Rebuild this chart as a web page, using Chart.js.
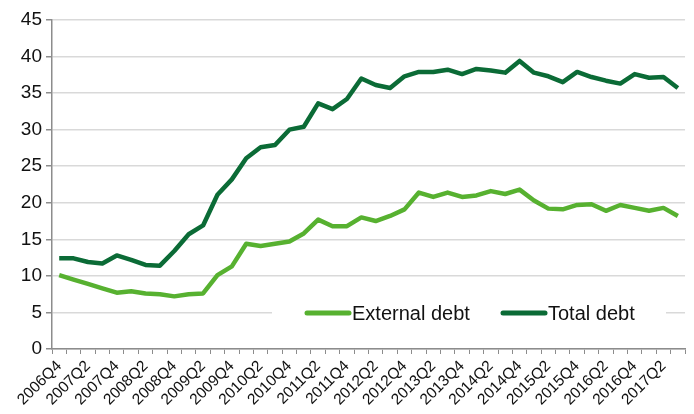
<!DOCTYPE html>
<html>
<head>
<meta charset="utf-8">
<script src="https://cdn.jsdelivr.net/npm/chart.js@4.4.1/dist/chart.umd.min.js"></script>
<style>
  html, body { margin: 0; padding: 0; background: #fff; }
  #wrap { width: 694px; height: 414px; position: relative; }
</style>
</head>
<body>
<div id="wrap"><canvas id="myChart"></canvas></div>
<script>
// quarters, 2006Q4 .. 2017Q3
const quarters = [
  '2006Q4',
  '2007Q1','2007Q2','2007Q3','2007Q4',
  '2008Q1','2008Q2','2008Q3','2008Q4',
  '2009Q1','2009Q2','2009Q3','2009Q4',
  '2010Q1','2010Q2','2010Q3','2010Q4',
  '2011Q1','2011Q2','2011Q3','2011Q4',
  '2012Q1','2012Q2','2012Q3','2012Q4',
  '2013Q1','2013Q2','2013Q3','2013Q4',
  '2014Q1','2014Q2','2014Q3','2014Q4',
  '2015Q1','2015Q2','2015Q3','2015Q4',
  '2016Q1','2016Q2','2016Q3','2016Q4',
  '2017Q1','2017Q2','2017Q3'
];

const externalDebt = [
  10.1,
  9.5, 8.9, 8.3, 7.7,
  7.9, 7.6, 7.5, 7.2,
  7.5, 7.6, 10.1, 11.3,
  14.4, 14.1, 14.4, 14.7,
  15.8, 17.7, 16.8, 16.8,
  18.0, 17.5, 18.2, 19.1,
  21.4, 20.8, 21.4, 20.8,
  21.0, 21.6, 21.2, 21.8,
  20.3, 19.2, 19.1, 19.7,
  19.8, 18.9, 19.7, 19.3,
  18.9, 19.3, 18.2
];

const totalDebt = [
  12.4,
  12.4, 11.9, 11.7, 12.8,
  12.2, 11.5, 11.4, 13.4,
  15.7, 16.9, 21.1, 23.2,
  26.1, 27.6, 27.9, 30.0,
  30.4, 33.6, 32.8, 34.2,
  37.0, 36.1, 35.7, 37.3,
  37.9, 37.9, 38.2, 37.6,
  38.3, 38.1, 37.8, 39.4,
  37.8, 37.3, 36.5, 37.9,
  37.2, 36.7, 36.3, 37.6,
  37.1, 37.2, 35.7
];

const yTicks = [0, 5, 10, 15, 20, 25, 30, 35, 40, 45];

const lightGreen = '#57b130';
const darkGreen = '#0b6b36';
const axisGrey = '#8c8c8c';
const FONT = '"Liberation Sans", Arial, sans-serif';

// legend sits inside the plot, on a white box over the 5 gridline
const innerLegend = {
  id: 'innerLegend',
  afterDatasetsDraw(chart) {
    const ctx = chart.ctx;
    const y = 313;
    ctx.save();
    ctx.fillStyle = '#fff';
    ctx.fillRect(272, 300, 394, 26);
    const items = [
      { x: 307, label: 'External debt', color: lightGreen },
      { x: 503, label: 'Total debt', color: darkGreen }
    ];
    items.forEach((it) => {
      ctx.strokeStyle = it.color;
      ctx.lineWidth = 5;
      ctx.lineCap = 'round';
      ctx.beginPath();
      ctx.moveTo(it.x, y);
      ctx.lineTo(it.x + 42, y);
      ctx.stroke();
      ctx.fillStyle = '#111';
      ctx.font = '20px ' + FONT;
      ctx.textBaseline = 'middle';
      ctx.fillText(it.label, it.x + 45, y + 1);
    });
    ctx.restore();
  }
};

const ctx = document.getElementById('myChart');
const myChart = new Chart(ctx, {
  type: 'line',
  data: {
    labels: quarters,
    datasets: [
      {
        label: 'External debt',
        data: externalDebt,
        borderColor: lightGreen,
        borderWidth: 4.5,
        pointRadius: 0,
        tension: 0,
        borderJoinStyle: 'round'
      },
      {
        label: 'Total debt',
        data: totalDebt,
        borderColor: darkGreen,
        borderWidth: 4.5,
        pointRadius: 0,
        tension: 0,
        borderJoinStyle: 'round'
      }
    ]
  },
  options: {
    responsive: true,
    maintainAspectRatio: false,
    animation: false,
    layout: { padding: { top: 20, right: 0, left: 0, bottom: 0 } },
    plugins: {
      legend: { display: false },
      tooltip: { enabled: false }
    },
    scales: {
      x: {
        offset: true,
        grid: {
          offset: true,
          drawOnChartArea: false,
          drawTicks: true,
          tickLength: 5,
          color: axisGrey
        },
        border: { color: axisGrey, width: 1.5 },
        ticks: {
          autoSkip: false,
          maxRotation: 45,
          minRotation: 45,
          padding: 3,
          color: '#111',
          font: { family: FONT, size: 15.5 },
          callback: function(value, index) {
            return index % 2 === 0 ? quarters[index] : '';
          }
        },
        afterFit: function(scale) { scale.height = 65; }
      },
      y: {
        min: 0,
        max: 45,
        afterBuildTicks: function(scale) {
          scale.ticks = yTicks.map(v => ({ value: v }));
        },
        grid: {
          color: '#d9d9d9',
          lineWidth: 1.5,
          drawTicks: true,
          tickLength: 6,
          tickColor: axisGrey
        },
        border: { color: axisGrey, width: 1.5 },
        ticks: {
          padding: 4,
          color: '#111',
          font: { family: FONT, size: 19 }
        },
        afterFit: function(scale) { scale.width = 52; }
      }
    }
  },
  plugins: [innerLegend]
});
</script>
</body>
</html>
